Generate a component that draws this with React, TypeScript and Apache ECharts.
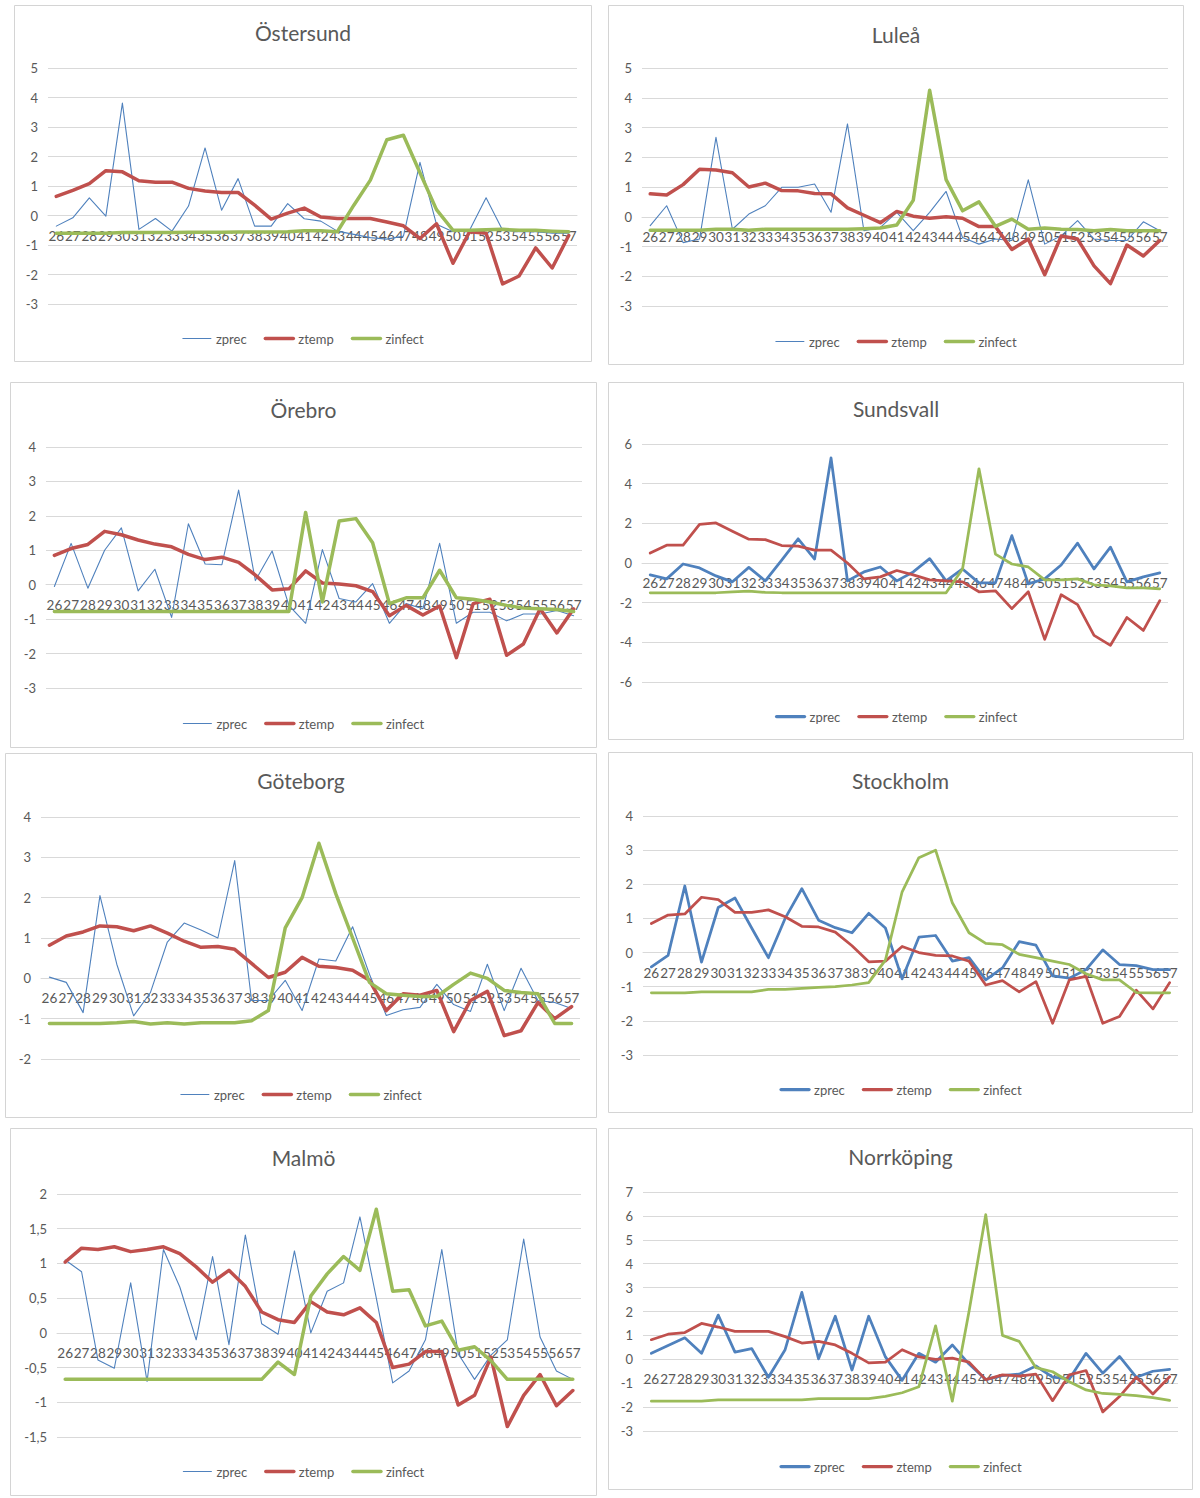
import React, { useEffect, useRef } from "react";
import * as echarts from "echarts";

// ---------- DATA ----------
const weeks = ["26","27","28","29","30","31","32","33","34","35","36","37","38","39","40","41","42","43","44","45","46","47","48","49","50","51","52","53","54","55","56","57"];

const ostersundPrec = [-0.36, -0.08, 0.6, -0.02, 3.81, -0.47, -0.1, -0.53, 0.32, 2.29, 0.18, 1.25, -0.36, -0.36, 0.4, -0.11, -0.19, -0.53, -0.64, -0.75, -0.8, -0.7, 1.8, -0.3, -0.55, -0.5, 0.6, -0.5, -0.55, -0.55, -0.6, -0.6];
const ostersundTemp = [0.65, 0.85, 1.08, 1.52, 1.48, 1.18, 1.13, 1.13, 0.92, 0.83, 0.78, 0.78, 0.35, -0.12, 0.08, 0.25, -0.05, -0.1, -0.1, -0.1, -0.22, -0.35, -0.78, -0.28, -1.62, -0.55, -0.6, -2.32, -2.05, -1.1, -1.78, -0.68];
const ostersundInfect = [-0.6, -0.6, -0.6, -0.6, -0.58, -0.58, -0.58, -0.58, -0.57, -0.57, -0.57, -0.56, -0.56, -0.56, -0.55, -0.52, -0.52, -0.55, 0.35, 1.2, 2.57, 2.72, 1.45, 0.2, -0.5, -0.5, -0.48, -0.47, -0.5, -0.5, -0.53, -0.55];

const luleaPrec = [-0.3, 0.37, -0.87, -0.75, 2.67, -0.42, 0.09, 0.37, 0.99, 0.99, 1.1, 0.15, 3.12, -0.47, -0.36, 0.15, -0.47, 0.15, 0.85, -0.7, -0.92, -0.75, -0.8, 1.24, -0.92, -0.64, -0.13, -0.75, -0.8, -0.8, -0.17, -0.47];
const luleaTemp = [0.77, 0.73, 1.08, 1.6, 1.57, 1.48, 1.0, 1.13, 0.88, 0.87, 0.78, 0.77, 0.3, 0.05, -0.2, 0.18, 0.02, -0.05, 0.0, -0.05, -0.33, -0.33, -1.1, -0.75, -1.95, -0.65, -0.75, -1.65, -2.25, -0.95, -1.32, -0.8];
const luleaInfect = [-0.45, -0.45, -0.45, -0.45, -0.42, -0.42, -0.45, -0.42, -0.42, -0.42, -0.42, -0.42, -0.42, -0.4, -0.38, -0.28, 0.55, 4.25, 1.25, 0.2, 0.5, -0.32, -0.08, -0.42, -0.38, -0.42, -0.43, -0.47, -0.43, -0.47, -0.47, -0.47];

const orebroPrec = [-0.05, 1.2, -0.1, 1.0, 1.65, -0.18, 0.45, -0.95, 1.77, 0.6, 0.58, 2.75, 0.12, 0.98, -0.6, -1.12, 1.02, -0.4, -0.5, 0.03, -1.12, -0.55, -0.7, 1.2, -1.12, -0.8, -0.8, -1.05, -0.85, -0.85, -0.75, -0.9];
const orebroTemp = [0.85, 1.05, 1.17, 1.55, 1.45, 1.3, 1.18, 1.1, 0.88, 0.73, 0.8, 0.65, 0.28, -0.15, -0.12, 0.4, 0.05, 0.02, -0.03, -0.2, -0.9, -0.6, -0.88, -0.62, -2.12, -0.55, -0.42, -2.05, -1.72, -0.7, -1.4, -0.7];
const orebroInfect = [-0.78, -0.78, -0.78, -0.78, -0.78, -0.78, -0.78, -0.78, -0.78, -0.78, -0.78, -0.78, -0.78, -0.78, -0.78, 2.1, -0.5, 1.85, 1.92, 1.22, -0.55, -0.38, -0.38, 0.42, -0.38, -0.42, -0.5, -0.6, -0.68, -0.7, -0.72, -0.78];

const sundsvallPrec = [-0.6, -0.8, -0.05, -0.25, -0.65, -0.95, -0.22, -0.9, 0.15, 1.22, 0.2, 5.3, -0.9, -0.45, -0.2, -0.9, -0.45, 0.22, -0.9, -0.3, -1.0, -1.0, 1.38, -1.05, -0.8, -0.1, 1.0, -0.3, 0.8, -0.95, -0.7, -0.5];
const sundsvallTemp = [0.5, 0.9, 0.9, 1.95, 2.02, 1.6, 1.2, 1.18, 0.88, 0.85, 0.65, 0.65, 0.0, -0.8, -0.7, -0.38, -0.6, -0.85, -0.9, -0.95, -1.45, -1.4, -2.3, -1.45, -3.85, -1.6, -2.1, -3.65, -4.15, -2.75, -3.4, -1.9];
const sundsvallInfect = [-1.5, -1.5, -1.5, -1.5, -1.5, -1.45, -1.42, -1.48, -1.5, -1.5, -1.5, -1.5, -1.5, -1.5, -1.5, -1.5, -1.5, -1.5, -1.5, -0.3, 4.75, 0.45, -0.05, -0.2, -0.85, -0.85, -0.8, -1.1, -1.15, -1.25, -1.25, -1.3];

const goteborgPrec = [0.03, -0.1, -0.85, 2.05, 0.35, -0.93, -0.35, 0.9, 1.37, 1.2, 1.0, 2.92, -0.55, -0.55, -0.05, -0.8, 0.48, 0.43, 1.28, 0.1, -0.92, -0.78, -0.72, -0.15, -0.65, -0.82, 0.35, -0.8, 0.25, -0.55, -0.6, -0.75];
const goteborgTemp = [0.82, 1.05, 1.15, 1.3, 1.28, 1.18, 1.3, 1.12, 0.92, 0.77, 0.79, 0.72, 0.37, 0.02, 0.15, 0.52, 0.3, 0.27, 0.2, -0.05, -0.8, -0.38, -0.42, -0.3, -1.32, -0.55, -0.32, -1.42, -1.3, -0.6, -1.0, -0.7];
const goteborgInfect = [-1.12, -1.12, -1.12, -1.12, -1.1, -1.07, -1.13, -1.1, -1.13, -1.1, -1.1, -1.1, -1.05, -0.8, 1.25, 2.0, 3.35, 2.1, 1.0, -0.1, -0.38, -0.42, -0.45, -0.45, -0.15, 0.13, 0.0, -0.3, -0.35, -0.38, -1.12, -1.12];

const stockholmPrec = [-0.42, -0.08, 1.95, -0.28, 1.32, 1.6, 0.72, -0.15, 1.0, 1.87, 0.95, 0.73, 0.58, 1.15, 0.72, -0.77, 0.45, 0.5, -0.25, -0.15, -0.8, -0.45, 0.32, 0.22, -0.68, -0.75, -0.5, 0.08, -0.35, -0.38, -0.5, -0.5];
const stockholmTemp = [0.85, 1.1, 1.13, 1.62, 1.55, 1.18, 1.18, 1.25, 1.05, 0.77, 0.75, 0.6, 0.2, -0.27, -0.25, 0.18, 0.0, -0.08, -0.1, -0.25, -0.95, -0.82, -1.15, -0.85, -2.07, -0.8, -0.7, -2.07, -1.87, -1.1, -1.65, -0.88];
const stockholmInfect = [-1.18, -1.18, -1.18, -1.15, -1.15, -1.15, -1.15, -1.08, -1.08, -1.05, -1.02, -1.0, -0.95, -0.88, -0.22, 1.78, 2.78, 3.0, 1.46, 0.58, 0.27, 0.23, -0.05, -0.15, -0.25, -0.35, -0.62, -0.8, -0.8, -1.17, -1.18, -1.18];

const malmoPrec = [1.05, 0.88, -0.39, -0.51, 0.72, -0.7, 1.2, 0.66, -0.1, 1.1, -0.17, 1.41, 0.13, -0.02, 1.18, 0.0, 0.6, 0.72, 1.67, 0.5, -0.72, -0.55, -0.1, 1.2, -0.3, -0.67, -0.32, -0.1, 1.35, -0.06, -0.55, -0.67];
const malmoTemp = [1.02, 1.22, 1.2, 1.24, 1.17, 1.2, 1.24, 1.14, 0.95, 0.73, 0.9, 0.67, 0.3, 0.19, 0.15, 0.45, 0.3, 0.26, 0.36, 0.15, -0.5, -0.45, -0.27, -0.27, -1.04, -0.9, -0.35, -1.35, -0.9, -0.6, -1.05, -0.83];
const malmoInfect = [-0.67, -0.67, -0.67, -0.67, -0.67, -0.67, -0.67, -0.67, -0.67, -0.67, -0.67, -0.67, -0.67, -0.42, -0.6, 0.53, 0.85, 1.1, 0.9, 1.78, 0.6, 0.62, 0.1, 0.17, -0.25, -0.2, -0.4, -0.67, -0.67, -0.67, -0.67, -0.67];

const norrkopingPrec = [0.25, 0.58, 0.9, 0.25, 1.85, 0.3, 0.45, -0.75, 0.4, 2.8, 0.02, 1.8, -0.45, 1.8, 0.1, -0.88, 0.25, -0.12, 0.6, -0.2, -0.85, -0.68, -0.62, -0.28, -0.75, -0.82, 0.25, -0.58, 0.12, -0.75, -0.5, -0.42];
const norrkopingTemp = [0.82, 1.05, 1.12, 1.5, 1.35, 1.17, 1.17, 1.17, 0.95, 0.68, 0.75, 0.6, 0.25, -0.15, -0.12, 0.4, 0.1, 0.0, 0.05, -0.12, -0.85, -0.65, -0.7, -0.62, -1.73, -0.65, -0.47, -2.2, -1.56, -0.75, -1.45, -0.73];
const norrkopingInfect = [-1.75, -1.75, -1.75, -1.75, -1.7, -1.7, -1.7, -1.7, -1.7, -1.7, -1.65, -1.65, -1.65, -1.65, -1.55, -1.4, -1.15, 1.4, -1.75, 2.0, 6.05, 1.0, 0.75, -0.35, -0.52, -0.94, -1.28, -1.43, -1.47, -1.52, -1.6, -1.72];

const seriesNames = ["zprec", "ztemp", "zinfect"];

// ---------- STYLE / LAYOUT ----------
const BLUE = "#4F81BD";
const RED = "#C0504D";
const GREEN = "#9BBB59";
const TEXT = "#595959";
const GRID = "#d9d9d9";
const FONT = "Lato, 'Open Sans', 'Liberation Sans', sans-serif";

type Panel = {
  title: string;
  x: number; y: number; w: number; h: number;
  grid: { left: number; right: number; top: number; bottom: number };
  titleTop: number;
  legendTop: number;
  min: number; max: number; interval: number;
  prec: number[]; temp: number[]; infect: number[];
  thick: boolean;
  comma?: boolean;
};

const panels: Panel[] = [
  { title: "Östersund", x: 14, y: 5, w: 578, h: 357, grid: { left: 34, right: 15, top: 63, bottom: 58 }, titleTop: 17, legendTop: 327, min: -3, max: 5, interval: 1, prec: ostersundPrec, temp: ostersundTemp, infect: ostersundInfect, thick: false },
  { title: "Luleå", x: 608, y: 5, w: 576, h: 360, grid: { left: 34, right: 16, top: 63, bottom: 59 }, titleTop: 19, legendTop: 330, min: -3, max: 5, interval: 1, prec: luleaPrec, temp: luleaTemp, infect: luleaInfect, thick: false },
  { title: "Örebro", x: 10, y: 382, w: 587, h: 366, grid: { left: 36, right: 15, top: 65, bottom: 60 }, titleTop: 17, legendTop: 335, min: -3, max: 4, interval: 1, prec: orebroPrec, temp: orebroTemp, infect: orebroInfect, thick: false },
  { title: "Sundsvall", x: 608, y: 382, w: 576, h: 358, grid: { left: 34, right: 16, top: 62, bottom: 58 }, titleTop: 16, legendTop: 328, min: -6, max: 6, interval: 2, prec: sundsvallPrec, temp: sundsvallTemp, infect: sundsvallInfect, thick: true },
  { title: "Göteborg", x: 5, y: 753, w: 592, h: 365, grid: { left: 36, right: 17, top: 64, bottom: 59 }, titleTop: 17, legendTop: 335, min: -2, max: 4, interval: 1, prec: goteborgPrec, temp: goteborgTemp, infect: goteborgInfect, thick: false },
  { title: "Stockholm", x: 608, y: 752, w: 585, h: 361, grid: { left: 35, right: 15, top: 64, bottom: 58 }, titleTop: 18, legendTop: 331, min: -3, max: 4, interval: 1, prec: stockholmPrec, temp: stockholmTemp, infect: stockholmInfect, thick: true },
  { title: "Malmö", x: 10, y: 1128, w: 587, h: 368, grid: { left: 47, right: 16, top: 66, bottom: 59 }, titleTop: 19, legendTop: 337, min: -1.5, max: 2, interval: 0.5, prec: malmoPrec, temp: malmoTemp, infect: malmoInfect, thick: false, comma: true },
  { title: "Norrköping", x: 608, y: 1128, w: 585, h: 362, grid: { left: 35, right: 15, top: 64, bottom: 59 }, titleTop: 18, legendTop: 332, min: -3, max: 7, interval: 1, prec: norrkopingPrec, temp: norrkopingTemp, infect: norrkopingInfect, thick: true },
];

function buildOption(p: Panel) {
  const precW = p.thick ? 2.75 : 1.1;
  const otherW = p.thick ? 2.75 : 3.5;
  const colors = [BLUE, RED, GREEN];
  const widths = [precW, otherW, otherW];
  const datas = [p.prec, p.temp, p.infect];
  const gridH = p.h - p.grid.top - p.grid.bottom;
  const zeroFromBottom = (gridH * (0 - p.min)) / (p.max - p.min);
  return {
    animation: false,
    textStyle: { fontFamily: FONT },
    title: {
      text: p.title,
      left: "center",
      top: p.titleTop,
      padding: 0,
      textStyle: { fontFamily: FONT, fontSize: 21, fontWeight: "normal", color: TEXT },
    },
    legend: {
      top: p.legendTop,
      left: "center",
      padding: 0,
      itemWidth: 28,
      itemHeight: 12,
      itemGap: 17,
      itemStyle: { opacity: 0 },
      textStyle: { fontFamily: FONT, fontSize: 13, color: TEXT },
      data: seriesNames.map((name, i) => ({
        name,
        lineStyle: { width: widths[i] + (p.thick ? 0.5 : 0), color: colors[i], opacity: 1 },
      })),
    },
    grid: { ...p.grid, containLabel: false },
    xAxis: {
      type: "category",
      data: weeks,
      boundaryGap: true,
      position: "bottom",
      offset: -zeroFromBottom,
      axisLine: { show: true, onZero: false, lineStyle: { color: GRID, width: 1 } },
      axisTick: { show: false },
      axisLabel: { interval: 0, color: TEXT, fontSize: 13.5, fontFamily: FONT, margin: 13, hideOverlap: false },
      splitLine: { show: false },
    },
    yAxis: {
      type: "value",
      min: p.min,
      max: p.max,
      interval: p.interval,
      axisLine: { show: false },
      axisTick: { show: false },
      axisLabel: {
        color: TEXT,
        fontSize: 13,
        fontFamily: FONT,
        margin: 10,
        formatter: (v: number) => (p.comma ? String(v).replace(".", ",") : String(v)),
      },
      splitLine: { lineStyle: { color: GRID, width: 1 } },
    },
    graphic: [
      {
        type: "rect",
        silent: true,
        shape: { x: 0.5, y: 0.5, width: p.w - 1, height: p.h - 1 },
        style: { fill: "none", stroke: "#d4d4d4", lineWidth: 1 },
      },
    ],
    series: seriesNames.map((name, i) => ({
      name,
      type: "line",
      data: datas[i],
      symbol: "none",
      showSymbol: false,
      smooth: false,
      z: 3 + i,
      itemStyle: { color: colors[i] },
      lineStyle: { color: colors[i], width: widths[i], join: "round", cap: "round" },
    })),
  };
}

function ChartPanel({ p }: { p: Panel }) {
  const ref = useRef<HTMLDivElement>(null);
  useEffect(() => {
    if (!ref.current) return;
    const chart = echarts.init(ref.current, undefined, { renderer: "svg" });
    chart.setOption(buildOption(p) as any);
    return () => chart.dispose();
  }, [p]);
  return (
    <div
      ref={ref}
      style={{ position: "absolute", left: p.x, top: p.y, width: p.w, height: p.h }}
    />
  );
}

export default function App() {
  return (
    <div style={{ position: "absolute", left: 0, top: 0, width: 1200, height: 1498, background: "#ffffff" }}>
      {panels.map((p) => (
        <ChartPanel key={p.title} p={p} />
      ))}
    </div>
  );
}
